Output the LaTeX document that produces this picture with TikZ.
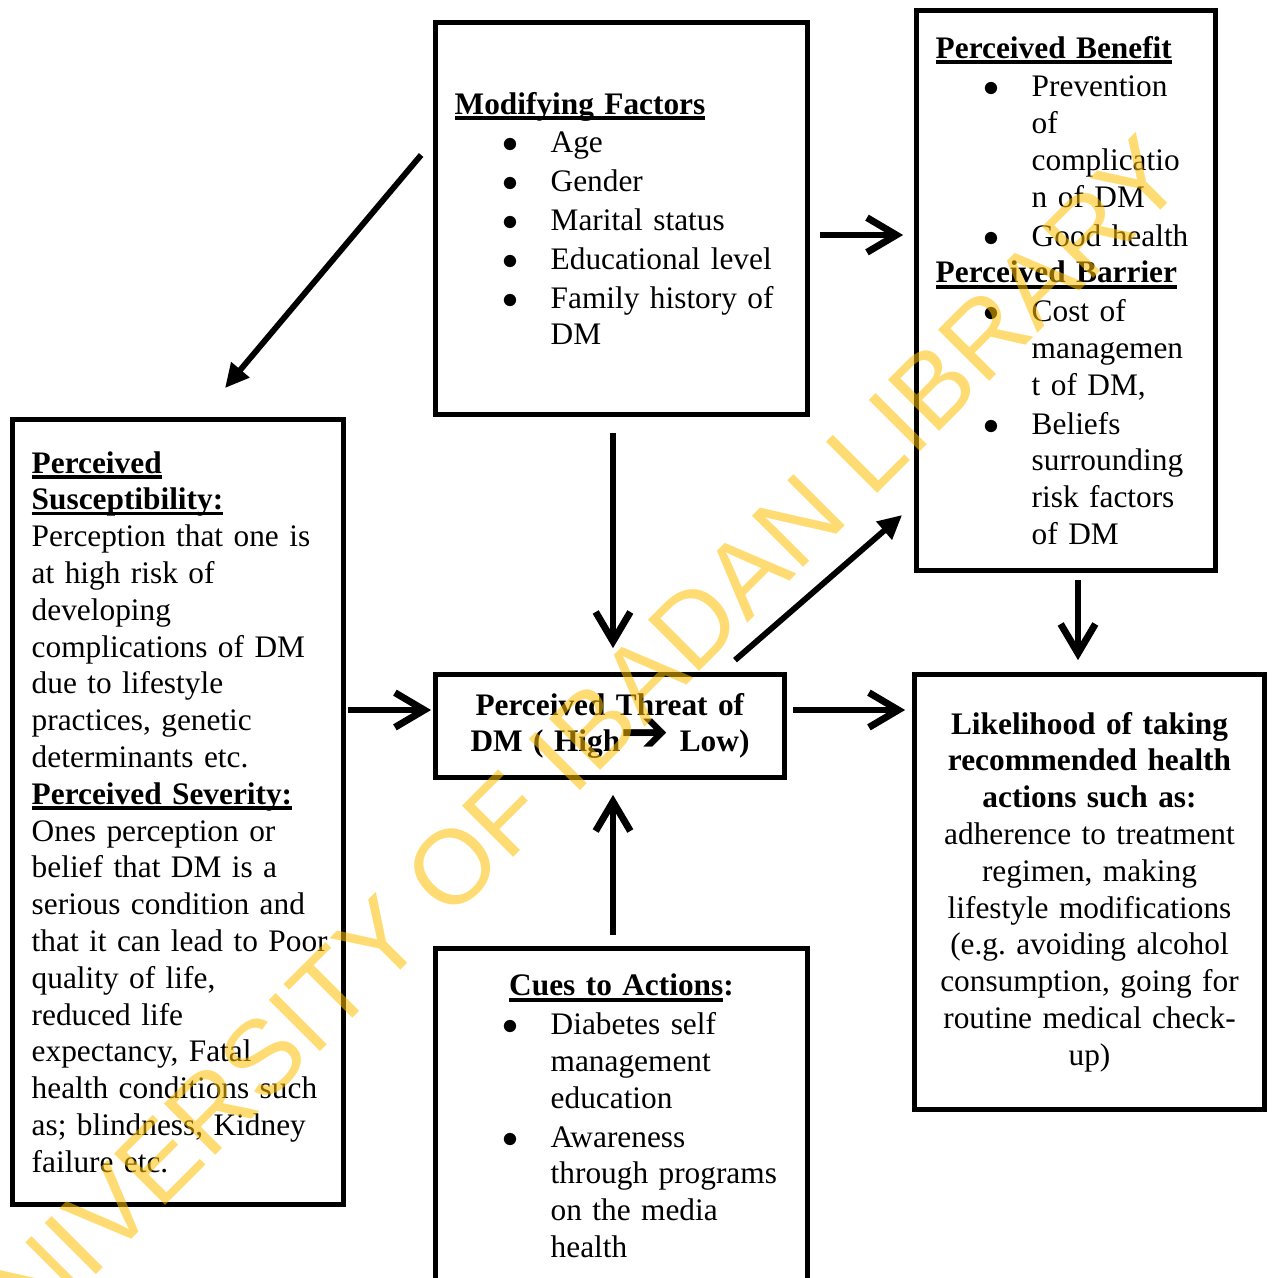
\documentclass[tikz,border=0pt]{standalone}
\usepackage{fontspec}
\setmainfont{Liberation Serif}
\newfontfamily\wmfont{Liberation Sans}
\newfontfamily\symfont{DejaVu Sans}
\usetikzlibrary{arrows.meta, positioning}
\definecolor{wmyellow}{RGB}{255,192,0}
\frenchspacing
\newsavebox{\hdbox}
% underlined heading, line at a fixed depth
\newcommand{\hdul}[1]{\leavevmode\sbox{\hdbox}{#1}\rlap{\rule[-2.1pt]{\wd\hdbox}{1.3pt}}\usebox{\hdbox}}
% bullet item and its continuation lines
\newcommand{\itm}[1]{\hspace*{18pt}\makebox[18pt][l]{$\bullet$}#1}
\newcommand{\cnt}[1]{\hspace*{36pt}#1}

\begin{document}
\begin{tikzpicture}[
        x=0.375pt, y=-0.375pt,
        % Styles for boxes
        panel/.style={
            rectangle, draw, line width=1.8pt, fill=white,
            inner xsep=7.2pt, inner ysep=0pt,
            font=\fontsize{11.75}{13.8}\selectfont, align=left
        },
        % Styles for arrows
        flow/.style={
            line width=2.6pt, -{Straight Barb[length=11pt, width=13pt]}
        },
        tiltflow/.style={
            line width=2.2pt, -{Triangle[length=9pt, width=8.5pt]}
        },
        wmark/.style={
            font=\wmfont\fontsize{39.5}{40}\selectfont,
            text=wmyellow, text opacity=0.55, rotate=45
        }
    ]
    \useasboundingbox (0,0) rectangle (1275,1278);
    \clip (0,0) rectangle (1275,1278);

    % 1. BOXES
    \node[panel, minimum width=139.5pt, minimum height=147pt, text width=125.1pt]
        (mod) at (621.5,218.5) {%
        \hdul{\textbf{Modifying Factors}}\\[0.75pt]
        \itm{Age}\\[0.75pt]
        \itm{Gender}\\[0.75pt]
        \itm{Marital status}\\[0.75pt]
        \itm{Educational level}\\[0.75pt]
        \itm{Family history of}\\
        \cnt{DM}};

    \node[panel, minimum width=112.1pt, minimum height=210pt, text width=97.7pt]
        (ben) at (1066,290.5) {%
        \hdul{\textbf{Perceived Benefit}}\\[0.75pt]
        \itm{Prevention}\\
        \cnt{of}\\
        \cnt{complicatio}\\
        \cnt{n of DM}\\[0.75pt]
        \itm{Good health}\\
        \hdul{\textbf{Perceived Barrier}}\\[0.75pt]
        \itm{Cost of}\\
        \cnt{managemen}\\
        \cnt{t of DM,}\\[0.75pt]
        \itm{Beliefs}\\
        \cnt{surrounding}\\
        \cnt{risk factors}\\
        \cnt{of DM}};

    \node[panel, minimum width=124.1pt, minimum height=294.4pt, text width=109.7pt]
        (sus) at (178,812) {%
        \hdul{\textbf{Perceived}}\\
        \hdul{\textbf{Susceptibility:}}\\
        Perception that one is\\
        at high risk of\\
        developing\\
        complications of DM\\
        due to lifestyle\\
        practices, genetic\\
        determinants etc.\\
        \hdul{\textbf{Perceived Severity:}}\\
        Ones perception or\\
        belief that DM is a\\
        serious condition and\\
        \mbox{that it can lead to Poor}\\
        quality of life,\\
        reduced life\\
        expectancy, Fatal\\
        health conditions such\\
        as; blindness, Kidney\\
        failure etc.};

    \node[panel, align=center, minimum width=130.9pt, minimum height=38.6pt, text width=116.5pt]
        (thr) at (610,726) {%
        \textbf{Perceived Threat of}\\
        \textbf{DM ( High{\symfont\fontsize{22}{13.8}\selectfont ➔} Low)}};

    \node[panel, align=center, inner xsep=3pt, minimum width=131.25pt, minimum height=163.1pt, text width=125pt]
        (lik) at (1089.5,892) {%
        \textbf{Likelihood of taking}\\
        \textbf{recommended health}\\
        \textbf{actions such as:}\\
        adherence to treatment\\
        regimen, making\\
        lifestyle modifications\\
        (e.g. avoiding alcohol\\
        consumption, going for\\
        routine medical check-\\
        up)};

    \node[panel, minimum width=139.5pt, minimum height=125.6pt, text width=125.1pt]
        (cue) at (621.5,1116) {%
        \makebox[\linewidth]{\textbf{\hdul{Cues to Actions}:}}\\[0.75pt]
        \itm{Diabetes self}\\
        \cnt{management}\\
        \cnt{education}\\[0.75pt]
        \itm{Awareness}\\
        \cnt{through programs}\\
        \cnt{on the media}\\
        \cnt{health}};

    % 2. ARROWS
    \draw[tiltflow] ([shift={(-12,-63.5)}]mod.west) -- ([shift={(47,-29)}]sus.north);
    \draw[flow] ([shift={(10,16.5)}]mod.east) -- ([shift={(-11,-55.5)}]ben.west);
    \draw[flow] ([shift={(-8.5,16)}]mod.south) -- ([shift={(3,-24)}]thr.north);
    \draw[tiltflow] ([shift={(125,-12)}]thr.north) -- ([shift={(-12,224.5)}]ben.west);
    \draw[flow] ([shift={(12,7)}]ben.south) -- ([shift={(-11.5,-12)}]lik.north);
    \draw[flow] ([shift={(2,-102)}]sus.east) -- ([shift={(-2,-16)}]thr.west);
    \draw[flow] ([shift={(6,-16)}]thr.east) -- ([shift={(-7,-182)}]lik.west);
    \draw[flow] ([shift={(-8.5,-11)}]cue.north) -- ([shift={(3,15)}]thr.south);

    % 3. WATERMARK
    \node[wmark] (wm) at (560,760) {UNIVERSITY OF IBADAN LIBRARY};

\end{tikzpicture}
\end{document}
